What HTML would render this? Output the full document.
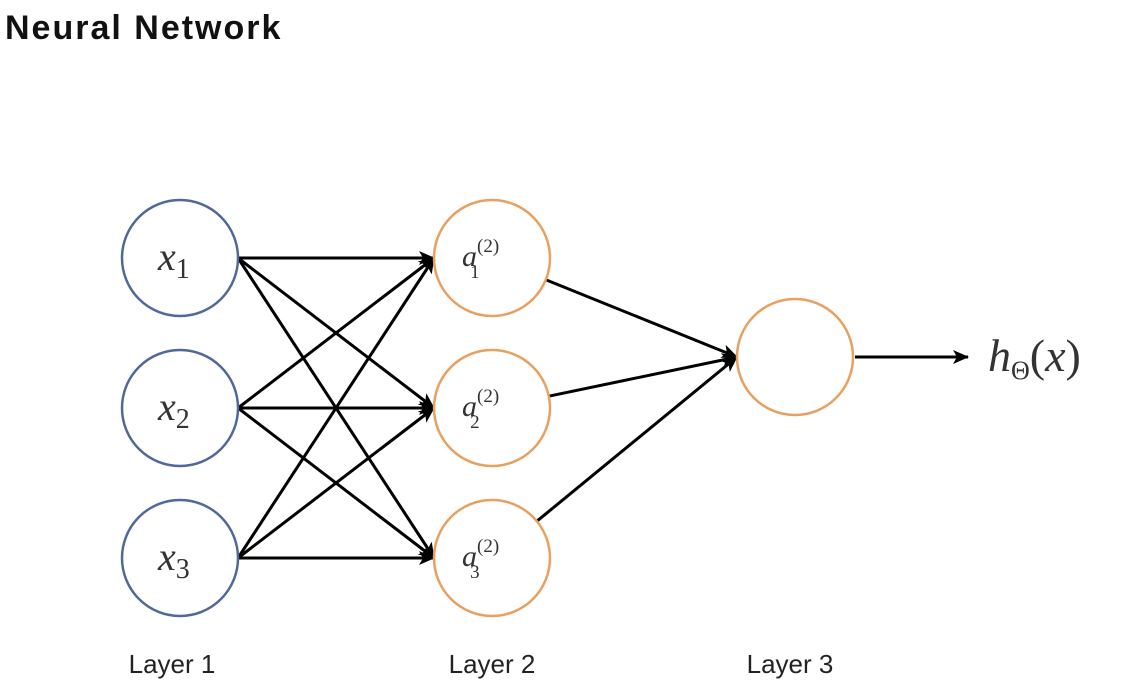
<!DOCTYPE html>
<html><head><meta charset="utf-8"><style>
body{margin:0;background:#fff;width:1142px;height:690px;overflow:hidden}
svg{display:block}
</style></head><body>
<svg width="1142" height="690">
<defs>
<marker id="ah2" markerWidth="16" markerHeight="14" refX="15" refY="7" orient="auto" markerUnits="userSpaceOnUse"><path d="M0,0 L16,7 L0,14 L4,7 z" fill="#000"/></marker></defs>
<text x="5" y="39" font-family="Liberation Sans, sans-serif" font-weight="bold" font-size="34" letter-spacing="2" fill="#111">Neural Network</text>
<g id="edges"></g>
<g id="nodes"></g>
<line x1="855" y1="357" x2="968" y2="357" stroke="#000" stroke-width="3" marker-end="url(#ah2)"/>
<text x="988" y="371" font-family="Liberation Serif, serif" font-size="46" fill="#333"><tspan font-style="italic">h</tspan><tspan font-size="26" dy="8">Θ</tspan><tspan dy="-8">(</tspan><tspan font-style="italic">x</tspan>)</text>
<g font-family="Liberation Sans, sans-serif" font-size="26" fill="#222" text-anchor="middle">
<text x="172" y="673">Layer 1</text>
<text x="492" y="673">Layer 2</text>
<text x="790" y="673">Layer 3</text>
</g>
</svg>
<script>
const L1=[[180,258],[180,408],[180,558]];
const L2=[[492,258],[492,408],[492,558]];
const L3=[[795,357]];
const R=58;
const NS='http://www.w3.org/2000/svg';
const eg=document.getElementById('edges'),ng=document.getElementById('nodes');
function line(x1,y1,x2,y2){
const l=document.createElementNS(NS,'line');
l.setAttribute('x1',x1);l.setAttribute('y1',y1);l.setAttribute('x2',x2);l.setAttribute('y2',y2);
l.setAttribute('stroke','#000');l.setAttribute('stroke-width','3');l.setAttribute('marker-end','url(#ah2)');


eg.appendChild(l);}
L1.forEach(a=>L2.forEach(b=>line(a[0]+R,a[1],b[0]-R,b[1])));
L2.forEach(a=>L3.forEach(b=>{const tx=b[0]-R,ty=b[1];const dx=tx-a[0],dy=ty-a[1],d=Math.hypot(dx,dy);line(a[0]+dx/d*R,a[1]+dy/d*R,tx,ty);}));
function node(p,col,lab,sub,sup,fs){const c=document.createElementNS(NS,'circle');
c.setAttribute('cx',p[0]);c.setAttribute('cy',p[1]);c.setAttribute('r',R);c.setAttribute('fill','#fff');c.setAttribute('stroke',col);c.setAttribute('stroke-width','2.5');


ng.appendChild(c);
if(lab){const t=document.createElementNS(NS,'text');t.setAttribute('font-family','Liberation Serif, serif');t.setAttribute('fill','#333');
t.setAttribute('x',p[0]-(sup?30:22));t.setAttribute('y',p[1]+(sup?8:12));
t.innerHTML='<tspan font-style="italic" font-size="'+fs+'">'+lab+'</tspan>'+(sup?'<tspan font-size="19" dy="-14">'+sup+'</tspan><tspan font-size="19" dx="-29" dy="26">'+sub+'</tspan>':'<tspan font-size="28" dy="8">'+sub+'</tspan>');


ng.appendChild(t);}}
L1.forEach((p,i)=>node(p,'#50689a','x',String(i+1),null,40));
L2.forEach((p,i)=>node(p,'#e8a060','a',String(i+1),'(2)',30));
L3.forEach(p=>node(p,'#e8a060',null));
</script>
</body></html>
